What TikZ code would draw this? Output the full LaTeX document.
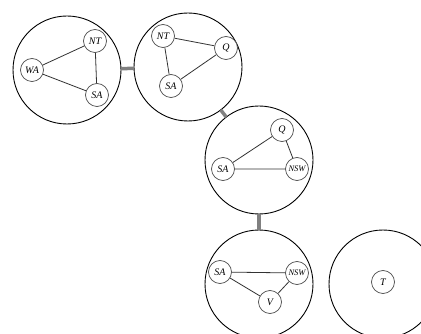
\documentclass[tikz,border=0pt]{standalone}
\usepackage{fontspec}
\setmainfont{Liberation Serif}
\begin{document}
\begin{tikzpicture}[x=1pt,y=-1pt,
  big/.style={circle,draw=black,line width=0.9pt,minimum size=108pt,inner sep=0pt,outer sep=0pt},
  var/.style={circle,draw=black!70,line width=0.7pt,minimum size=23pt,inner sep=0pt,fill=white,font=\fontsize{10}{10}\selectfont\itshape},
  small/.style={font=\fontsize{8.5}{8.5}\selectfont\itshape},
  cedge/.style={draw=black!80,line width=0.8pt},
  sep/.style={draw=black!50,line width=3.5pt}]
\useasboundingbox (0,0) rectangle (421,334);
\node[big] (c1) at (67,70) {};
\node[big] (c2) at (188,67) {};
\node[big] (c3) at (259,160) {};
\node[big] (c4) at (259,284) {};
\node[big] (c5) at (383,284) {};
\draw[sep] (c1) -- (c2);
\draw[sep] (c2) -- (c3);
\draw[sep] (c3) -- (c4);
% cluster 1
\node[var] (wa1) at (32,70) {WA};
\node[var] (nt1) at (95,41) {NT};
\node[var] (sa1) at (97,95) {SA};
\draw[cedge] (wa1) -- (nt1) (nt1) -- (sa1) (wa1) -- (sa1);
% cluster 2
\node[var] (nt2) at (163,36) {NT};
\node[var] (q2) at (226,48) {Q};
\node[var] (sa2) at (171,86) {SA};
\draw[cedge] (nt2) -- (q2) (nt2) -- (sa2) (sa2) -- (q2);
% cluster 3
\node[var] (q3) at (282,130) {Q};
\node[var] (sa3) at (223,169) {SA};
\node[var,small] (nsw3) at (297,169) {NSW};
\draw[cedge] (sa3) -- (q3) (q3) -- (nsw3) (sa3) -- (nsw3);
% cluster 4
\node[var] (sa4) at (220,272) {SA};
\node[var,small] (nsw4) at (297,273) {NSW};
\node[var] (v4) at (270,302) {V};
\draw[cedge] (sa4) -- (nsw4) (sa4) -- (v4) (v4) -- (nsw4);
% cluster 5
\node[var] (t5) at (383,282) {T};
\end{tikzpicture}
\end{document}
